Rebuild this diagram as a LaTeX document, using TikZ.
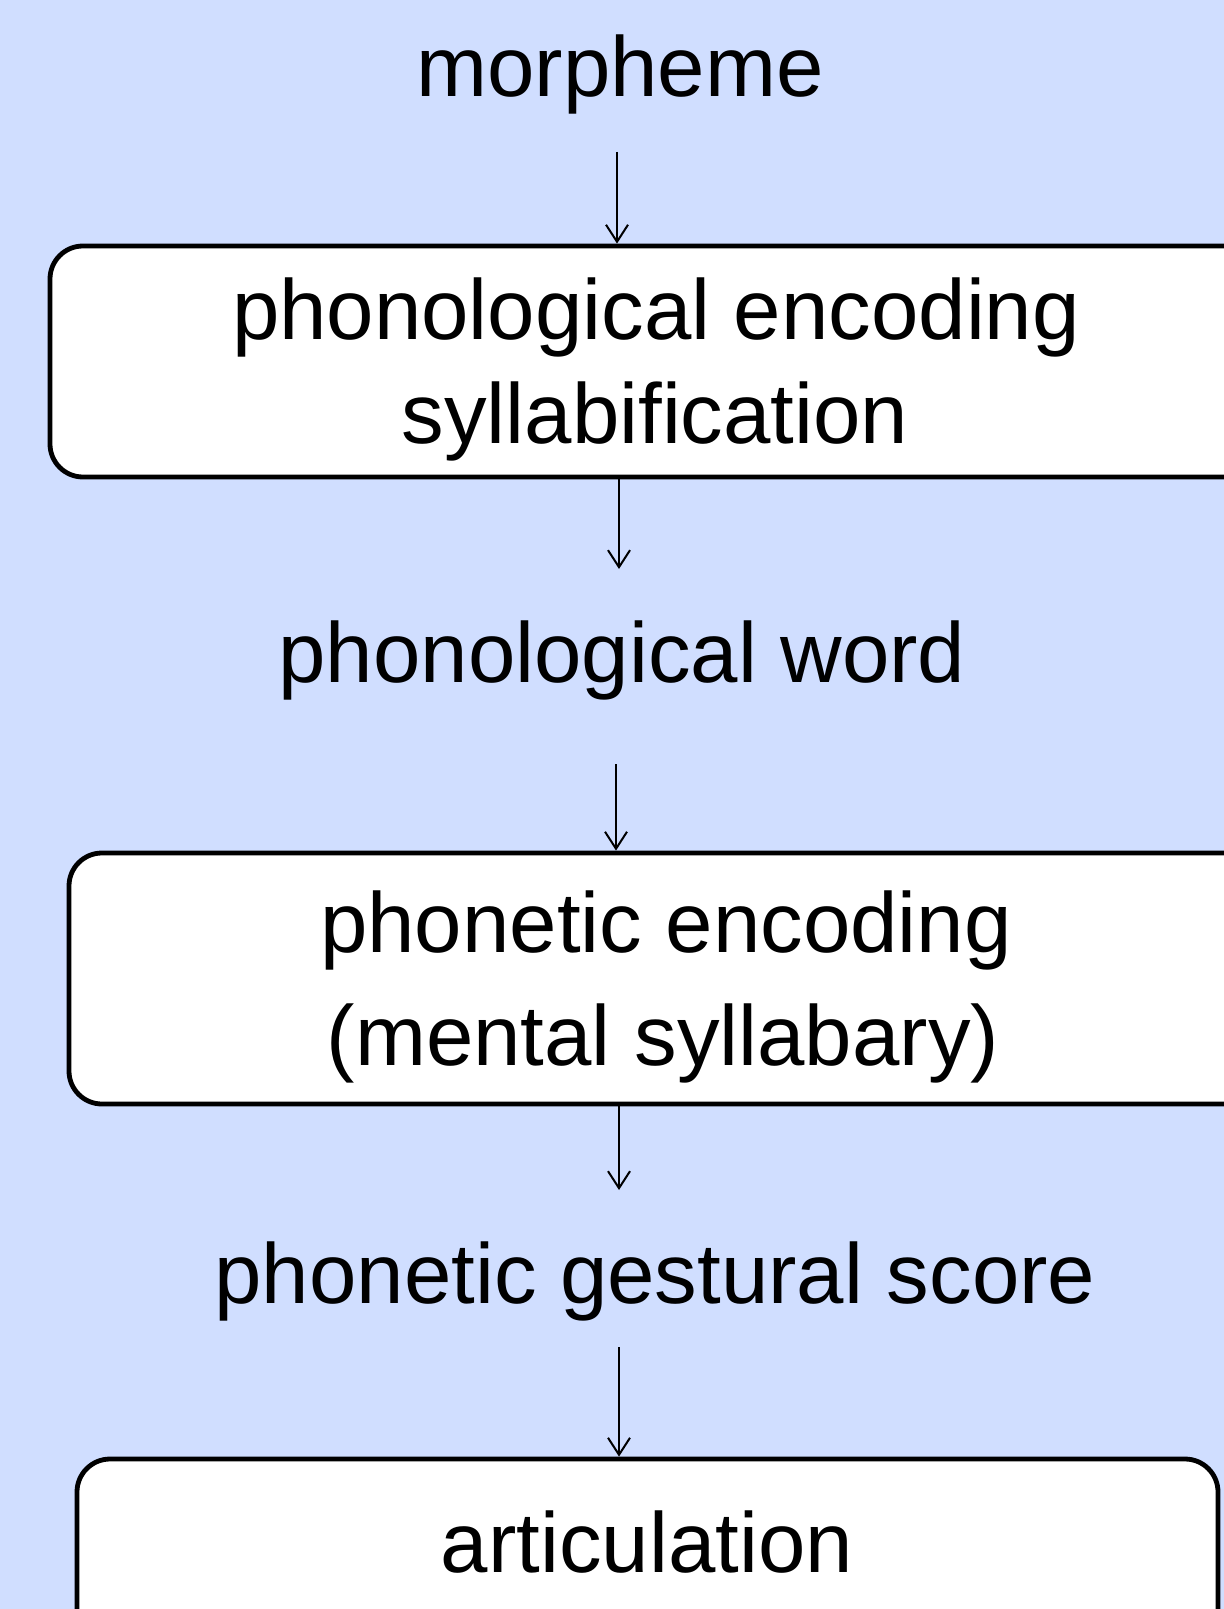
\documentclass[tikz,border=0pt]{standalone}
\usepackage{fontspec}
\setmainfont{Liberation Sans}
\usetikzlibrary{arrows.meta,fit}
\definecolor{bgblue}{RGB}{208,222,255}
\tikzset{
  lbl/.style={anchor=base, inner sep=0pt, font=\fontsize{42.6}{50}\selectfont},
  procbox/.style={draw=black, line width=2.4pt, fill=white, rounded corners=16.5pt, inner sep=0pt},
  arr/.style={draw=black, line width=1pt, -{Straight Barb[length=8.5pt,width=11pt,line width=1pt]}}
}
\begin{document}
\begin{tikzpicture}[x=0.5pt, y=-0.5pt]
\useasboundingbox (0,0) rectangle (1224,1609);
\fill[bgblue] (0,0) rectangle (1224,1609);
\clip (0,0) rectangle (1224,1609);

% boxes
\node[procbox, fit={(50,246) (1290,477)}] (b1) {};
\node[procbox, fit={(69,853) (1290,1104)}] (b2) {};
\node[procbox, fit={(77,1459) (1218,1680)}] (b3) {};

% texts
\node[lbl] (morph) at (620,97) {morpheme};
\node[lbl] (t1a) at (656,340) {phonological encoding};
\node[lbl] (t1b) at (655,444) {syllabification};
\node[lbl] (pword) at (622,682) {phonological word};
\node[lbl] (t2a) at (666,952) {phonetic encoding};
\node[lbl] (t2b) at (663,1065) {(mental syllabary)};
\node[lbl] (pscore) at (655,1303) {phonetic gestural score};
\node[lbl] (t3) at (647,1572) {articulation};

% arrows
\coordinate (c1) at (617,152);
\coordinate (c2) at (619,569);
\coordinate (c3) at (616,764);
\coordinate (c4) at (619,1190);
\coordinate (c5) at (619,1347);
\draw[arr] (c1) -- (c1 |- b1.north);
\draw[arr] (c2 |- b1.south) -- (c2);
\draw[arr] (c3) -- (c3 |- b2.north);
\draw[arr] (c4 |- b2.south) -- (c4);
\draw[arr] (c5) -- (c5 |- b3.north);
\end{tikzpicture}
\end{document}
